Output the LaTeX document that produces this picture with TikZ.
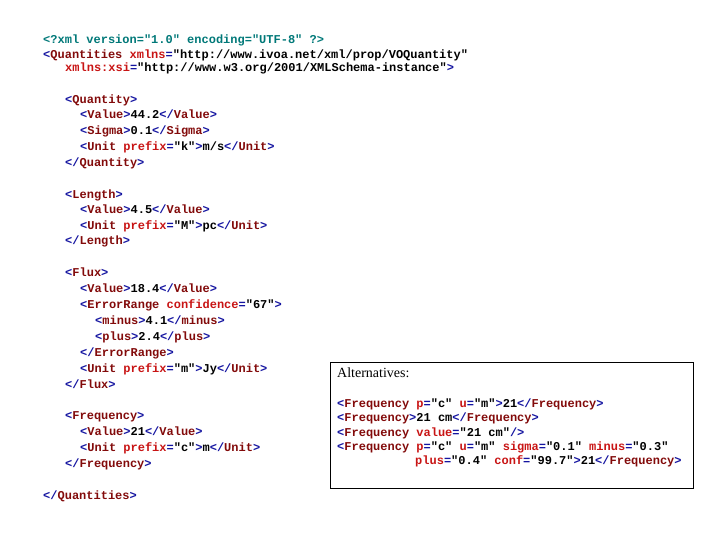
\documentclass[tikz,border=0pt]{standalone}
\usepackage{fontspec}
\newfontfamily\xmono{Liberation Mono}
\setmainfont{Liberation Serif}
\definecolor{xb}{RGB}{20,20,160}
\definecolor{xm}{RGB}{130,10,10}
\definecolor{xr}{RGB}{200,20,20}
\definecolor{xt}{RGB}{0,120,120}
\newcommand\xt[1]{\textcolor{xb}{<}\textcolor{xm}{#1}\textcolor{xb}{>}}
\newcommand\xe[1]{\textcolor{xb}{</}\textcolor{xm}{#1}\textcolor{xb}{>}}
\newcommand\xo[1]{\textcolor{xb}{<}\textcolor{xm}{#1}}
\newcommand\xa[2]{\textcolor{xr}{#1}\textcolor{xb}{=}"#2"}
\newcommand\xc{\textcolor{xb}{>}}
\newcommand\xsc{\textcolor{xb}{/>}}
\begin{document}
\begin{tikzpicture}[x=1pt,y=1pt,yshift=-4pt,
  ln/.style={anchor=base west,inner sep=0pt,font=\xmono\bfseries\fontsize{12}{14}\selectfont}]
\useasboundingbox (0,4) rectangle (720,544);
\node[ln,text=xt] (l1) at (43,500) {<?xml version="1.0" encoding="UTF-8" ?>};
\node[ln] (l2) at (43,485) {\xo{Quantities} \xa{xmlns}{http://www.ivoa.net/xml/prop/VOQuantity}};
\node[ln] (l3) at (65,472) {\xa{xmlns:xsi}{http://www.w3.org/2001/XMLSchema-instance}\xc};
\node[ln] (l4) at (65,440) {\xt{Quantity}};
\node[ln] (l5) at (80,425) {\xt{Value}44.2\xe{Value}};
\node[ln] (l6) at (80,409) {\xt{Sigma}0.1\xe{Sigma}};
\node[ln] (l7) at (80,393) {\xo{Unit} \xa{prefix}{k}\xc m/s\xe{Unit}};
\node[ln] (l8) at (65,377) {\xe{Quantity}};
\node[ln] (l9) at (65,345) {\xt{Length}};
\node[ln] (l10) at (80,330) {\xt{Value}4.5\xe{Value}};
\node[ln] (l11) at (80,314) {\xo{Unit} \xa{prefix}{M}\xc pc\xe{Unit}};
\node[ln] (l12) at (65,299) {\xe{Length}};
\node[ln] (l13) at (65,267) {\xt{Flux}};
\node[ln] (l14) at (80,251) {\xt{Value}18.4\xe{Value}};
\node[ln] (l15) at (80,235) {\xo{ErrorRange} \xa{confidence}{67}\xc};
\node[ln] (l16) at (95,219) {\xt{minus}4.1\xe{minus}};
\node[ln] (l17) at (95,203) {\xt{plus}2.4\xe{plus}};
\node[ln] (l18) at (80,187) {\xe{ErrorRange}};
\node[ln] (l19) at (80,171) {\xo{Unit} \xa{prefix}{m}\xc Jy\xe{Unit}};
\node[ln] (l20) at (65,155) {\xe{Flux}};
\node[ln] (l21) at (65,124) {\xt{Frequency}};
\node[ln] (l22) at (80,108) {\xt{Value}21\xe{Value}};
\node[ln] (l23) at (80,92) {\xo{Unit} \xa{prefix}{c}\xc m\xe{Unit}};
\node[ln] (l24) at (65,76) {\xe{Frequency}};
\node[ln] (l25) at (43,44) {\xe{Quantities}};
\node[draw=black,line width=0.8pt,minimum width=363pt,minimum height=126pt,anchor=north west,inner sep=0pt] (box) at (330,182) {};
\node[anchor=base west,inner sep=0pt,font=\fontsize{14}{16}\selectfont] (alt) at (337,166) {Alternatives:};
\node[ln] (a1) at (337,136) {\xo{Frequency} \xa{p}{c} \xa{u}{m}\xc 21\xe{Frequency}};
\node[ln] (a2) at (337,122) {\xt{Frequency}21 cm\xe{Frequency}};
\node[ln] (a3) at (337,107) {\xo{Frequency} \xa{value}{21 cm}\xsc};
\node[ln] (a4) at (337,93) {\xo{Frequency} \xa{p}{c} \xa{u}{m} \xa{sigma}{0.1} \xa{minus}{0.3}};
\node[ln] (a5) at (415,79) {\xa{plus}{0.4} \xa{conf}{99.7}\xc 21\xe{Frequency}};
\end{tikzpicture}
\end{document}
